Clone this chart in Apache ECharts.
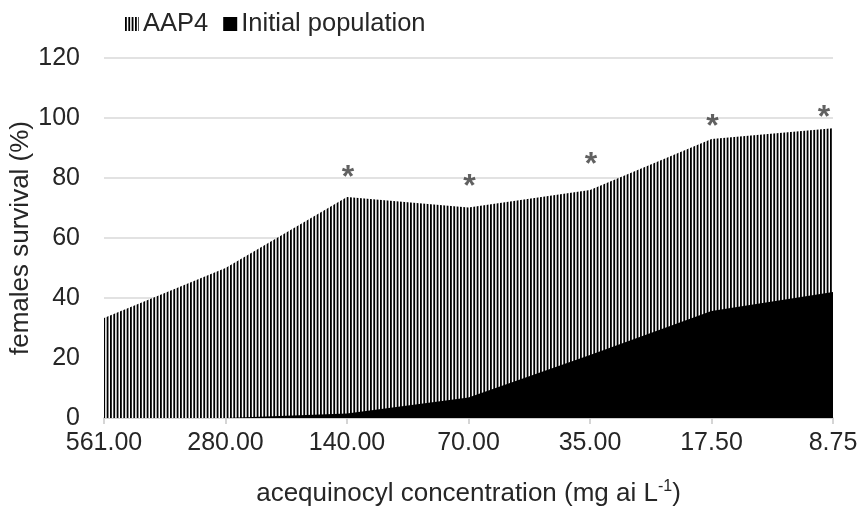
<!DOCTYPE html>
<html>
<head>
<meta charset="utf-8">
<script src="https://cdn.jsdelivr.net/npm/echarts@6/dist/echarts.min.js"></script>
<style>html,body{margin:0;padding:0;background:#fff}#c{width:862px;height:512px}</style>
</head>
<body>
<div id="c"></div>
<script>
var categories = ['561.00', '280.00', '140.00', '70.00', '35.00', '17.50', '8.75'];
var aap4 = [33.3, 50, 73.7, 70.2, 76, 93, 96.6];
var initialPopulation = [0, 0, 1.5, 6.8, 21, 35.7, 42];
var significance = [null, null, 81.7, 78.7, 86, 98.7, 101.7];
var yTicks = [0, 20, 40, 60, 80, 100, 120];

var cv = document.createElement('canvas');
cv.width = 10; cv.height = 4;
var cx = cv.getContext('2d');
cx.fillStyle = '#fff'; cx.fillRect(0, 0, 10, 4);
cx.fillStyle = '#000';
cx.fillRect(0, 0, 1.8, 4);
cx.fillRect(3.33, 0, 1.8, 4);
cx.fillRect(6.67, 0, 1.8, 4);
var stripes = { image: cv, repeat: 'repeat' };

var FONT = '"Liberation Sans", Arial, sans-serif';
var TXT = '#262626';
var chart = echarts.init(document.getElementById('c'));
chart.setOption({
  animation: false,
  backgroundColor: '#fff',
  textStyle: { fontFamily: FONT },
  grid: { left: 104, right: 29, top: 58, bottom: 94, containLabel: false, outerBoundsMode: 'none' },
  legend: {
    left: 120, top: 6, itemWidth: 14, itemHeight: 14, itemGap: 15,
    textStyle: { fontFamily: FONT, fontSize: 25.5, color: TXT, padding: [0, 0, 0, -1] },
    data: [
      { name: 'AAP4', icon: 'rect', itemStyle: { color: stripes } },
      { name: 'Initial population', icon: 'rect', itemStyle: { color: '#000' } }
    ]
  },
  xAxis: {
    type: 'category', data: categories, boundaryGap: false,
    name: '{a|acequinocyl concentration (mg ai L}{s|-1}{a|)}',
    nameLocation: 'middle', nameGap: 61, nameMoveOverlap: false,
    nameTextStyle: {
      rich: {
        a: { fontFamily: FONT, fontSize: 26, color: TXT },
        s: { fontFamily: FONT, fontSize: 16, color: TXT, verticalAlign: 'top', padding: [0, 0, 13, 0] }
      }
    },
    axisLine: { lineStyle: { color: '#c8c8c8', width: 1.5 } },
    axisTick: { show: true, length: 6, alignWithLabel: true, lineStyle: { color: '#c8c8c8', width: 1.5 } },
    axisLabel: { fontFamily: FONT, fontSize: 25, color: TXT, margin: 13 },
    splitLine: { show: false }
  },
  yAxis: {
    type: 'value', min: 0, max: 120, interval: 20,
    name: 'females survival (%)', nameLocation: 'middle', nameGap: 70, nameMoveOverlap: false,
    nameTextStyle: { fontFamily: FONT, fontSize: 26, color: TXT },
    axisLine: { show: false }, axisTick: { show: false },
    axisLabel: { fontFamily: FONT, fontSize: 25, color: TXT, margin: 24,
      formatter: function (v) { return yTicks.indexOf(v) >= 0 ? String(v) : ''; } },
    splitLine: { lineStyle: { color: '#d9d9d9', width: 1.5 } }
  },
  series: [
    {
      name: 'AAP4', type: 'line', data: aap4, symbol: 'none', z: 2,
      lineStyle: { width: 0 }, itemStyle: { color: stripes },
      areaStyle: { color: stripes, opacity: 1 }
    },
    {
      name: 'Initial population', type: 'line', data: initialPopulation, symbol: 'none', z: 3,
      lineStyle: { width: 0 }, itemStyle: { color: '#000' },
      areaStyle: { color: '#000', opacity: 1 }
    },
    {
      name: 'sig', type: 'scatter', data: significance.map(function (v, i) {
        var d = { value: v };
        if (i === significance.length - 1) d.label = { offset: [-9, 5] };
        return d;
      }),
      symbolSize: 1, itemStyle: { color: 'rgba(0,0,0,0)' }, z: 5,
      label: { show: true, position: 'inside', formatter: '*', fontFamily: FONT, fontWeight: 'bold', fontSize: 32, color: '#3a3a3a', offset: [1, 5] }
    }
  ]
});
</script>
</body>
</html>
